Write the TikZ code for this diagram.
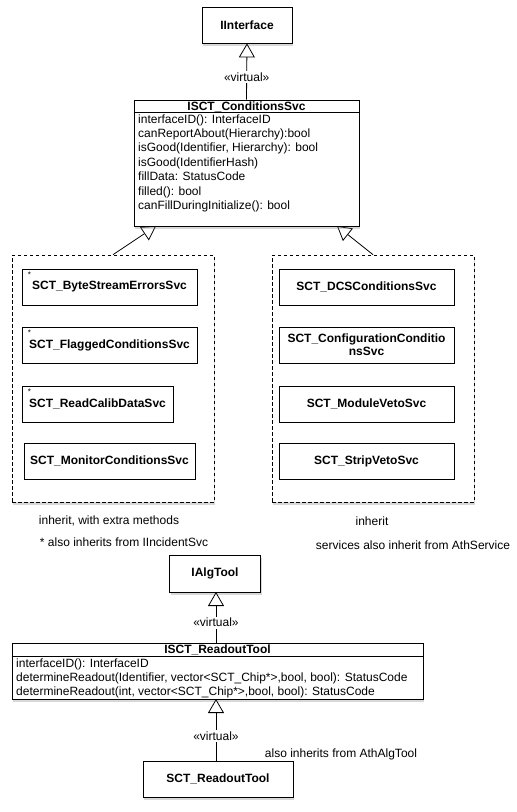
\documentclass[tikz,border=0pt]{standalone}
\usepackage{fontspec}
\setmainfont{Liberation Sans}
\usetikzlibrary{arrows.meta,shadows}
\begin{document}
\begin{tikzpicture}[x=1pt,y=-1pt,
  every node/.style={font=\fontsize{12}{14.5}\selectfont, inner sep=0pt},
  shad/.style={drop shadow={shadow xshift=1pt,shadow yshift=-2.5pt,opacity=0.3}},
  cls/.style={draw, fill=white, line width=0.8pt, shad},
  grp/.style={draw, fill=white, line width=0.7pt, dash pattern=on 3.5pt off 2.5pt, shad,
              minimum width=202pt, minimum height=247pt},
  inbox/.style={draw, fill=white, line width=0.7pt, minimum height=36pt, font=\fontsize{12}{13}\selectfont\bfseries},
  title/.style={font=\fontsize{12}{14.5}\selectfont\bfseries},
  member/.style={anchor=base west},
  note/.style={font=\fontsize{12}{14.5}\selectfont},
  star/.style={font=\fontsize{8}{8}\selectfont},
  inh/.style={draw, line width=0.8pt, -{Triangle[length=14pt,width=16pt,fill=white]}},
  lbl/.style={fill=white, inner sep=1.5pt, font=\fontsize{12}{14.5}\selectfont}
]
\useasboundingbox[fill=white] (0,0) rectangle (517,812);

% ---------- upper part ----------
\node[cls, minimum width=90pt, minimum height=36pt] (iif) at (247,25) {};
\node[title] (iift) at (247,25) {IInterface};

% groups
\node[grp] (lgroup) at (113,378.5) {};
\node[grp] (rgroup) at (373,378.5) {};

% inheritance tips on ISCT_ConditionsSvc
\coordinate (ltip) at (156,226);
\coordinate (rtip) at (337,226);
\draw[inh] (lgroup.north) -- (ltip);
\draw[inh] (rgroup.north) -- (rtip);

% ISCT_ConditionsSvc
\node[cls, minimum width=225pt, minimum height=126pt] (csvc) at (246.5,163) {};
\draw[line width=0.8pt] ([yshift=-13pt]csvc.north west) -- ([yshift=-13pt]csvc.north east);
\node[title] (csvct) at (246.5,107) {ISCT\_ConditionsSvc};
\node[member] (cm0) at (138,123)    {interfaceID(): InterfaceID};
\node[member] (cm1) at (138,137.45) {canReportAbout(Hierarchy):bool};
\node[member] (cm2) at (138,151.9)  {isGood(Identifier, Hierarchy): bool};
\node[member] (cm3) at (138,166.35) {isGood(IdentifierHash)};
\node[member] (cm4) at (138,180.8)  {fillData: StatusCode};
\node[member] (cm5) at (138,195.25) {filled(): bool};
\node[member] (cm6) at (138,209.7)  {canFillDuringInitialize(): bool};

\draw[inh] (csvc.north) -- node[lbl, pos=0.4] (v1) {«virtual»} (iif.south);

% left group members
\node[inbox, minimum width=175pt] (lb1) at (109.5,287) {SCT\_ByteStreamErrorsSvc};
\node[inbox, minimum width=175pt] (lb2) at (109.5,345) {SCT\_FlaggedConditionsSvc};
\node[inbox, minimum width=151pt] (lb3) at (97.5,404) {SCT\_ReadCalibDataSvc};
\node[inbox, minimum width=171pt] (lb4) at (109.5,461) {SCT\_MonitorConditionsSvc};
\node[star] (s1) at (29.5,274.5) {*};
\node[star] (s2) at (29.5,332.5) {*};
\node[star] (s3) at (29.5,391.5) {*};

% right group members
\node[inbox, minimum width=175pt] (rb1) at (366.5,287) {SCT\_DCSConditionsSvc};
\node[inbox, minimum width=175pt, align=center] (rb2) at (366.5,345) {SCT\_ConfigurationConditio\\nsSvc};
\node[inbox, minimum width=175pt] (rb3) at (366.5,404) {SCT\_ModuleVetoSvc};
\node[inbox, minimum width=175pt] (rb4) at (366.5,461) {SCT\_StripVetoSvc};

% notes
\node[note] (n1) at (109,521) {inherit, with extra methods};
\node[note] (n2) at (124,542) {* also inherits from IIncidentSvc};
\node[note] (n3) at (372,521) {inherit};
\node[note] (n4) at (413,545) {services also inherit from AthService};

% ---------- lower part ----------
\node[cls, minimum width=91pt, minimum height=37pt] (iat) at (215,573.5) {};
\node[title] (iatt) at (215,573.5) {IAlgTool};

\node[cls, minimum width=411pt, minimum height=56pt] (rtool) at (217.5,671) {};
\draw[line width=0.8pt] ([yshift=-14pt]rtool.north west) -- ([yshift=-14pt]rtool.north east);
\node[title] (rtoolt) at (217.5,650) {ISCT\_ReadoutTool};
\node[member] (rm0) at (16,667.5) {interfaceID(): InterfaceID};
\node[member] (rm1) at (16,681.5) {determineReadout(Identifier, vector<SCT\_Chip*>,bool, bool): StatusCode};
\node[member] (rm2) at (16,695.5) {determineReadout(int, vector<SCT\_Chip*>,bool, bool): StatusCode};

\node[cls, minimum width=150pt, minimum height=36pt] (sro) at (218,779) {};
\node[title] (srot) at (218,779) {SCT\_ReadoutTool};

\coordinate (a1) at (216,643);
\coordinate (a2) at (216,761);
\coordinate (t1) at (216,592);
\coordinate (t2) at (216,699);
\draw[inh] (a1) -- node[lbl, pos=0.4] (v2) {«virtual»} (t1);
\draw[inh] (a2) -- node[lbl, pos=0.4] (v3) {«virtual»} (t2);

\node[note] (n5) at (341,754) {also inherits from AthAlgTool};
\end{tikzpicture}
\end{document}
